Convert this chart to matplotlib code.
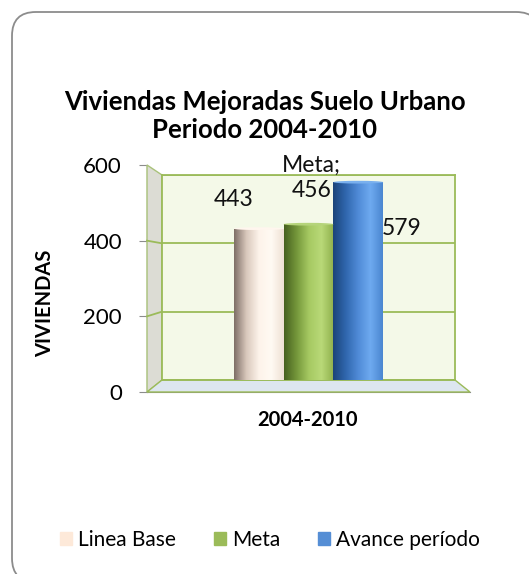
import numpy as np
import matplotlib
matplotlib.use("Agg")
import matplotlib.pyplot as plt
from matplotlib.patches import FancyBboxPatch, Polygon, Ellipse
from matplotlib.lines import Line2D
from matplotlib.colors import LinearSegmentedColormap

plt.rcParams["font.family"] = ["Lato", "DejaVu Sans"]

TITLE = "Viviendas Mejoradas Suelo Urbano\nPeriodo 2004-2010"
CATEGORY = "2004-2010"
SERIES = ["Linea Base", "Meta", "Avance período"]
VALUES = [443, 456, 579]
LABELS = ["443", "Meta;\n456", "579"]
YTICKS = [0, 200, 400, 600]

LEGEND_COLORS = ["#fde9d9", "#9bbb59", "#558ed5"]
GRADIENTS = [
    ["#7d6e66", "#d9c8bc", "#fdf3ea", "#fffaf3", "#efe0d4"],
    ["#46601f", "#74963a", "#a6c962", "#b9d978", "#8fb04c"],
    ["#1b4479", "#2f66ad", "#4f8ad6", "#6eaaf0", "#4a86d0"],
]
TOP_COLORS = ["#fff6ee", "#b5d47a", "#79b0ee"]

W, H = 529, 574
fig = plt.figure(figsize=(W / 100, H / 100), dpi=100)

# pixel geometry of the pseudo-3D box (front plane / back plane)
FRONT = dict(x0=147, x1=470, y0=392, y1=165)
BACK = dict(x0=162, x1=455, y0=380, y1=175)


def fbox(x0, y0, x1, y1):
    # pixel box (top-left origin) -> figure fraction rect
    return [x0 / W, 1 - y1 / H, (x1 - x0) / W, (y1 - y0) / H]


def fpt(x, y):
    return (x / W, 1 - y / H)


# rounded outer border (runs off the right and bottom edges)
border = FancyBboxPatch(fpt(12, 582), (540 - 12) / W, (582 - 12) / H,
                        boxstyle="round,pad=0,rounding_size=0.045",
                        mutation_aspect=W / H,
                        transform=fig.transFigure, facecolor="white",
                        edgecolor="#8c8c8c", linewidth=1.3, zorder=0)
fig.patches.append(border)

# side wall and floor
side = Polygon([fpt(FRONT["x0"], FRONT["y0"]), fpt(BACK["x0"], BACK["y0"]),
                fpt(BACK["x0"], BACK["y1"]), fpt(FRONT["x0"], FRONT["y1"])],
               closed=True, transform=fig.transFigure, facecolor="#dcdcd4",
               edgecolor="#a9c27a", linewidth=1.0, zorder=1)
floor = Polygon([fpt(FRONT["x0"], FRONT["y0"]), fpt(BACK["x0"], BACK["y0"]),
                 fpt(BACK["x1"], BACK["y0"]), fpt(FRONT["x1"], FRONT["y0"])],
                closed=True, transform=fig.transFigure, facecolor="#dde6ef",
                edgecolor="#9bbb59", linewidth=1.0, zorder=1)
fig.patches.extend([side, floor])

# gridlines across the side wall
for t in YTICKS[1:-1]:
    yf = FRONT["y0"] - t * (FRONT["y0"] - FRONT["y1"]) / 600
    yb = BACK["y0"] - t * (BACK["y0"] - BACK["y1"]) / 600
    fig.add_artist(Line2D([FRONT["x0"] / W, BACK["x0"] / W],
                          [1 - yf / H, 1 - yb / H], color="#9bbb59",
                          linewidth=1.3, zorder=1.5))

# back wall axes carries the bars
ax_b = fig.add_axes(fbox(BACK["x0"], BACK["y1"], BACK["x1"], BACK["y0"]), zorder=2)
ax_b.set_facecolor("#f4f9e8")
ax_b.set_yticks(YTICKS)
ax_b.yaxis.grid(True, color="#9bbb59", linewidth=1.3)
ax_b.set_axisbelow(True)
ax_b.tick_params(left=False, bottom=False, labelleft=False, labelbottom=False)
for s in ax_b.spines.values():
    s.set_color("#9bbb59")
    s.set_linewidth(1.3)

width = 0.17
xs = [(i - 1) * width for i in range(len(VALUES))]
for i, (x, v) in enumerate(zip(xs, VALUES)):
    bar = ax_b.bar(x, v, width=width, color=LEGEND_COLORS[i], zorder=3)[0]
    cmap = LinearSegmentedColormap.from_list(f"g{i}", GRADIENTS[i])
    grad = np.linspace(0, 1, 256).reshape(1, -1)
    im = ax_b.imshow(grad, extent=[x - width / 2, x + width / 2, 0, v],
                     aspect="auto", cmap=cmap, zorder=4)
    im.set_clip_path(bar)
    ax_b.add_patch(Ellipse((x, v), width, 8, facecolor=TOP_COLORS[i],
                           edgecolor="none", zorder=5))
ax_b.set_xlim(-0.5, 0.5)
ax_b.set_ylim(0, 600)

# data labels
offsets = [(-18, 21), (2, 33), (31, -33)]
for x, v, lab, off in zip(xs, VALUES, LABELS, offsets):
    ax_b.annotate(lab, (x, v), xytext=off, textcoords="offset points",
                  ha="center", va="center", fontsize=16.5, color="#111111",
                  linespacing=1.25, zorder=6, annotation_clip=False)

# front axes: ticks and axis lines
ax_f = fig.add_axes(fbox(FRONT["x0"], FRONT["y1"], FRONT["x1"], FRONT["y0"]), zorder=1)
ax_f.patch.set_visible(False)
ax_f.set_ylim(0, 600)
ax_f.set_yticks(YTICKS)
ax_f.set_yticklabels([str(t) for t in YTICKS], fontsize=16)
ax_f.set_xticks([])
ax_f.spines["top"].set_visible(False)
ax_f.spines["right"].set_visible(False)
ax_f.spines["left"].set_color("#8c8c8c")
ax_f.spines["bottom"].set_color("#8c8c8c")
ax_f.tick_params(axis="y", color="#8c8c8c", length=6, pad=12)

fig.text(307 / W, 1 - 420 / H, CATEGORY, ha="center", va="center",
         fontsize=14.5, fontweight="bold")
fig.text(45 / W, 1 - 303 / H, "VIVIENDAS", ha="center", va="center",
         rotation=90, fontsize=14.5, fontweight="bold")
fig.text(0.5, 1 - 116 / H, TITLE, ha="center", va="center", fontsize=18.5,
         fontweight="bold", linespacing=1.25)

# legend
handles = [plt.Rectangle((0, 0), 1, 1, color=c) for c in LEGEND_COLORS]
fig.legend(handles, SERIES, loc="center", bbox_to_anchor=(270 / W, 1 - 540 / H),
           ncol=3, frameon=False, fontsize=15, handlelength=0.58,
           handleheight=0.58, handletextpad=0.3, columnspacing=1.8)

fig.savefig("out.png", dpi=100)
